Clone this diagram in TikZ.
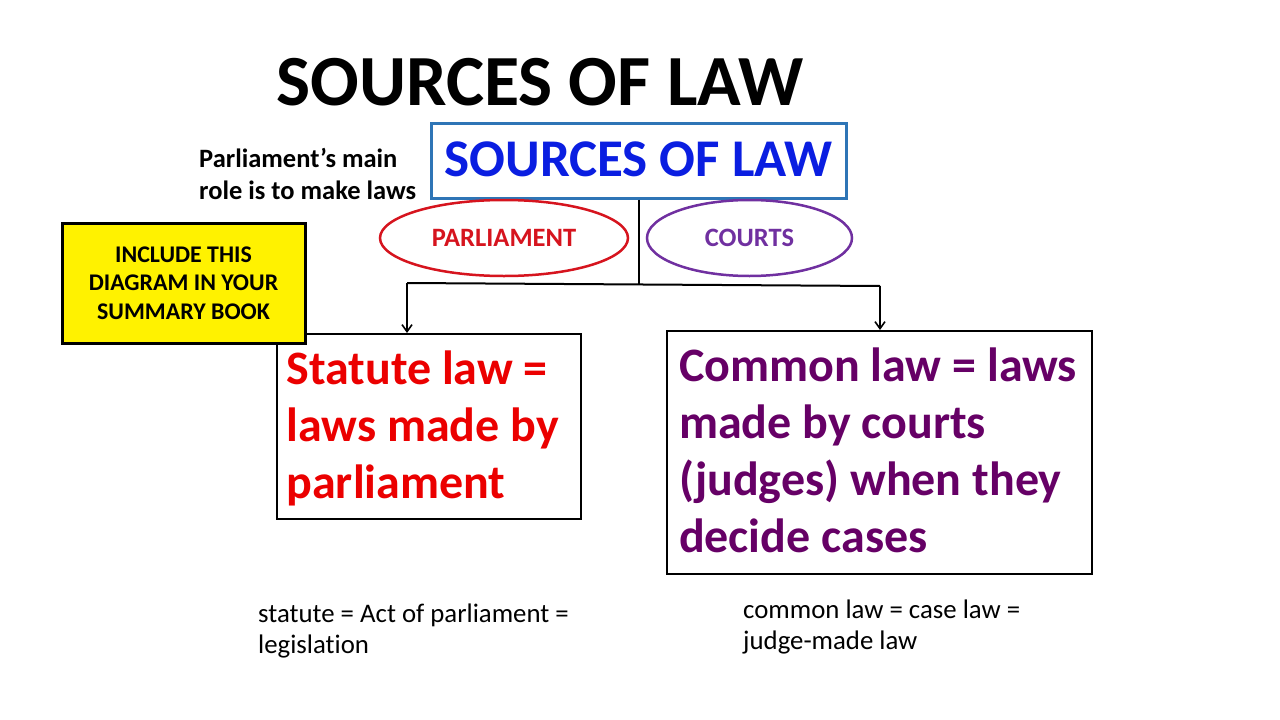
\documentclass[tikz,border=0pt]{standalone}
\usepackage{fontspec}
\setmainfont{Carlito}[Ligatures=NoCommon]
\usetikzlibrary{shapes.geometric,arrows.meta}
\definecolor{boxblue}{RGB}{46,117,182}
\definecolor{txtblue}{RGB}{10,30,225}
\definecolor{parlred}{RGB}{214,20,30}
\definecolor{courtpurple}{RGB}{112,48,160}
\definecolor{statred}{RGB}{235,0,0}
\definecolor{commonpurple}{RGB}{102,0,102}
\newcommand{\biglines}[2]{\raisebox{#1}[\height][\depth]{\begin{tabular}{@{}l@{}}#2\end{tabular}}}
\tikzset{
  plainbox/.style={draw=black, line width=2pt, rectangle, inner sep=0pt},
  bigtext/.style={font=\fontsize{48}{57}\selectfont\bfseries, align=flush left},
  oval/.style={ellipse, line width=2.5pt, inner sep=0pt, minimum height=76pt, font=\fontsize{26.5}{30}\selectfont\bfseries},
  conn/.style={draw=black, line width=2pt},
  arr/.style={conn, -{Straight Barb[length=7pt,width=10pt,line width=1.6pt]}},
  smalltext/.style={anchor=base west, inner sep=0pt, font=\fontsize{26.8}{31.5}\selectfont},
}
\begin{document}
\begin{tikzpicture}[x=1pt,y=-1pt]
\path[fill=white] (0,0) rectangle (1280,720);
\useasboundingbox (0,0) rectangle (1280,720);

% title
\node[anchor=base, inner sep=0pt, font=\fontsize{72}{80}\selectfont\bfseries] (title) at (540,105) {SOURCES OF LAW};

% blue box
\node[draw=boxblue, line width=3pt, rectangle, inner sep=0pt, minimum width=415pt, minimum height=75pt,
      text=txtblue, font=\fontsize{53}{60}\selectfont\bfseries] (src) at (638.5,160.5) {\raisebox{2pt}{SOURCES OF LAW}};

% note
\node[anchor=base west, inner sep=0pt, font=\fontsize{26.5}{32.5}\selectfont\bfseries] (note) at (199,167)
  {\begin{tabular}[t]{@{}l@{}}Parliament’s main\\role is to make laws\end{tabular}};

% ellipses
\node[oval, draw=parlred, text=parlred, minimum width=248pt] (parl) at (504,238) {PARLIAMENT};
\node[oval, draw=courtpurple, text=courtpurple, minimum width=205pt] (courts) at (749.5,238) {COURTS};

% boxes
\node[plainbox, minimum width=304pt, minimum height=185pt, text width=284pt, text=statred, bigtext] (stat) at (428.5,426.5)
  {\biglines{-4pt}{Statute law =\\laws made by\\parliament}};
\node[plainbox, minimum width=425pt, minimum height=243pt, text width=401pt, text=commonpurple, bigtext] (common) at (879.5,452.5)
  {\biglines{-2.6pt}{Common law = laws\\made by courts\\(judges) when they\\decide cases}};

% yellow box
\node[draw=black, line width=3pt, fill=yellow, rectangle, inner sep=0pt, minimum width=243pt, minimum height=120pt,
      align=center, font=\fontsize{23.9}{28.5}\selectfont\bfseries] (incl) at (183.5,283)
  {INCLUDE THIS\\DIAGRAM IN YOUR\\SUMMARY BOOK};

% connectors
\coordinate (j) at (639,284);
\coordinate (jl) at (407,283);
\coordinate (jr) at (880,286);
\draw[conn] (src.south -| j) -- (j);
\draw[conn] (jl) -- (jr);
\draw[arr] (jl) -- (jl |- stat.north);
\draw[arr] (jr) -- (jr |- common.north);

% bottom notes
\node[smalltext] (statnote) at (258,622)
  {\begin{tabular}[t]{@{}l@{}}statute = Act of parliament =\\legislation\end{tabular}};
\node[smalltext] (commonnote) at (743,618)
  {\begin{tabular}[t]{@{}l@{}}common law = case law =\\judge-made law\end{tabular}};
\end{tikzpicture}
\end{document}
